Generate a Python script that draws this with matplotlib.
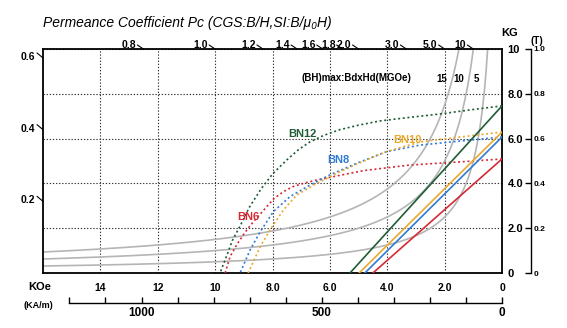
import numpy as np
import matplotlib
matplotlib.use("Agg")
import matplotlib.pyplot as plt
from matplotlib.ticker import MultipleLocator

plt.rcParams['font.family'] = ['Liberation Sans', 'DejaVu Sans']

# demagnetization (J-H) curves, H in kOe, B in kG
bn6_h = [0, 1.46, 3.21, 4.83, 6.0, 6.5, 6.93, 7.3, 7.62, 7.95, 8.2, 8.45, 8.61, 8.85, 9.02, 9.25, 9.48, 9.65]
bn6_b = [5.09, 4.96, 4.82, 4.57, 4.27, 4.14, 4.0, 3.85, 3.63, 3.32, 2.96, 2.6, 2.37, 2.0, 1.70, 1.25, 0.73, 0]
bn8_h = [0, 1.46, 2.86, 4.02, 5.06, 6.0, 6.69, 7.39, 7.97, 8.43, 8.78, 9.13]
bn8_b = [6.07, 5.89, 5.71, 5.42, 4.90, 4.38, 3.93, 3.41, 2.74, 1.84, 1.03, 0]
bn10_h = [0, 1.46, 2.86, 4.02, 4.60, 5.65, 6.46, 7.16, 7.62, 8.09, 8.43, 8.85]
bn10_b = [6.29, 6.07, 5.85, 5.42, 5.12, 4.52, 4.0, 3.48, 2.81, 1.92, 1.17, 0]
bn12_h = [0, 1.0, 2.16, 3.2, 4.25, 5.0, 5.65, 6.2, 6.7, 7.1, 7.5, 8.0, 8.4, 8.8, 9.13, 9.4, 9.6, 9.83]
bn12_b = [7.46, 7.30, 7.10, 6.95, 6.79, 6.60, 6.40, 6.15, 5.85, 5.50, 5.05, 4.42, 3.75, 2.95, 2.10, 1.45, 0.75, 0]

grades = ["BN6", "BN8", "BN10", "BN12"]
curves_h = [bn6_h, bn8_h, bn10_h, bn12_h]
curves_b = [bn6_b, bn8_b, bn10_b, bn12_b]
colors = ["#d42a36", "#2f7bd6", "#e9a92e", "#1f5c34"]

# straight normal curves: Br (kG) and Hcb (kOe)
br = [5.09, 6.07, 6.29, 7.46]
hcb = [4.50, 4.78, 4.98, 5.30]

# grade label positions (H, B)
label_h = [8.85, 5.72, 3.31, 6.97]
label_b = [2.5, 5.04, 5.94, 6.21]

# energy product iso-curves (MGOe)
bh_max = [15, 10, 5]
bh_label_h = [2.09, 1.5, 0.91]

# permeance coefficient marks
pc_top = [0.8, 1.0, 1.2, 1.4, 1.6, 1.8, 2.0, 3.0, 5.0, 10]
pc_top_labels = ["0.8", "1.0", "1.2", "1.4", "1.6", "1.8", "2.0", "3.0", "5.0", "10"]
pc_left = [0.6, 0.4, 0.2]

h_ticks = [14, 12, 10, 8, 6, 4, 2, 0]
h_labels = ["14", "12", "10", "8.0", "6.0", "4.0", "2.0", "0"]
b_ticks = [0, 2, 4, 6, 8, 10]
b_labels = ["0", "2.0", "4.0", "6.0", "8.0", "10"]
t_ticks = [0, 0.2, 0.4, 0.6, 0.8, 1.0]
t_labels = ["0", "0.2", "0.4", "0.6", "0.8", "1.0"]
kam_ticks = [1000, 500, 0]

H_MAX, B_MAX = 16, 10
KOE_TO_KAM = 1000 / (4 * np.pi)

fig = plt.figure(figsize=(5.67, 3.28), dpi=100)
ax = fig.add_axes([43 / 567, 1 - 273 / 328, 459 / 567, 224 / 328])
ax.set_xlim(H_MAX, 0)
ax.set_ylim(0, B_MAX)

dot = (0, (1.2, 1.6))
ax.grid(True, color="#333333", ls=dot, lw=0.8)

# (BH)max hyperbolas
for bh in bh_max:
    h = np.linspace(bh / B_MAX, H_MAX, 300)
    ax.plot(h, bh / h, color="#b5b5b5", lw=1.2, zorder=2)

for gh, gb, c, r, hc in zip(curves_h, curves_b, colors, br, hcb):
    ax.plot(gh, gb, color=c, ls=dot, lw=1.2, zorder=3)
    ax.plot([0, hc], [r, 0], color=c, lw=1.2, zorder=3)

for name, x, y, c in zip(grades, label_h, label_b, colors):
    ax.text(x, y, name, color=c, fontsize=8, fontweight="bold",
            ha="center", va="center", zorder=4)

ax.text(5.09, 8.71, "(BH)max:BdxHd(MGOe)", fontsize=7, fontweight="bold",
        ha="center", va="center")
for bh, x in zip(bh_max, bh_label_h):
    ax.text(x, 8.66, str(bh), fontsize=7, fontweight="bold", ha="center", va="center")

# permeance coefficient marks on top and left edges
for pc, lab in zip(pc_top, pc_top_labels):
    xy = (B_MAX / pc, B_MAX)
    ax.annotate("", xy=xy, xytext=(-6, 4), textcoords="offset pixels",
                arrowprops=dict(arrowstyle="-", lw=0.8, shrinkA=0, shrinkB=0),
                annotation_clip=False)
    ax.annotate(lab, xy=xy, xytext=(-7, 1), textcoords="offset pixels",
                ha="right", va="baseline", fontsize=7.5, fontweight="bold",
                annotation_clip=False)
for pc in pc_left:
    xy = (H_MAX, H_MAX * pc)
    ax.annotate("", xy=xy, xytext=(-6, 5), textcoords="offset pixels",
                arrowprops=dict(arrowstyle="-", lw=0.8, shrinkA=0, shrinkB=0),
                annotation_clip=False)
    ax.annotate(str(pc), xy=xy, xytext=(-8, 1), textcoords="offset pixels",
                ha="right", va="center", fontsize=7.5, fontweight="bold",
                annotation_clip=False)

for s in ax.spines.values():
    s.set_linewidth(1.3)

ax.set_xticks(h_ticks)
ax.set_xticklabels(h_labels, fontsize=7.5, fontweight="bold")
ax.tick_params(axis="x", length=0, pad=7)
ax.yaxis.tick_right()
ax.set_yticks(b_ticks)
ax.set_yticklabels(b_labels, fontsize=8, fontweight="bold")
ax.tick_params(axis="y", length=0, pad=4)

# kA/m scale under the kOe axis
sec = ax.secondary_xaxis(-0.134, functions=(lambda h: h * KOE_TO_KAM,
                                            lambda k: k / KOE_TO_KAM))
sec.set_xticks(kam_ticks)
sec.set_xticklabels([str(k) for k in kam_ticks], fontsize=8.5, fontweight="bold")
sec.xaxis.set_minor_locator(MultipleLocator(100))
sec.tick_params(which="both", direction="in", length=4, width=1, pad=3)
sec.spines["bottom"].set_bounds(0, 1200)
sec.spines["bottom"].set_linewidth(1)

# Tesla scale on the right
tax = ax.secondary_yaxis(1.063, functions=(lambda b: b / 10, lambda t: t * 10))
tax.set_yticks(t_ticks)
tax.set_yticklabels(t_labels, fontsize=6, fontweight="bold")
tax.tick_params(direction="in", length=4, width=1, pad=2)
tax.spines["right"].set_linewidth(1)

fig.text(43 / 567, 1 - 23 / 328, "Permeance Coefficient Pc (CGS:B/H,SI:B/μ₀H)",
         style="italic", fontsize=10, va="center")
fig.text(510 / 567, 1 - 33 / 328, "KG", fontsize=8, fontweight="bold",
         ha="center", va="center")
fig.text(537 / 567, 1 - 41 / 328, "(T)", fontsize=7, fontweight="bold",
         ha="center", va="center")
fig.text(40 / 567, 1 - 287 / 328, "KOe", fontsize=8, fontweight="bold",
         ha="center", va="center")
fig.text(38 / 567, 1 - 305 / 328, "(KA/m)", fontsize=6.5, fontweight="bold",
         ha="center", va="center")

fig.savefig("out.png", dpi=100)
